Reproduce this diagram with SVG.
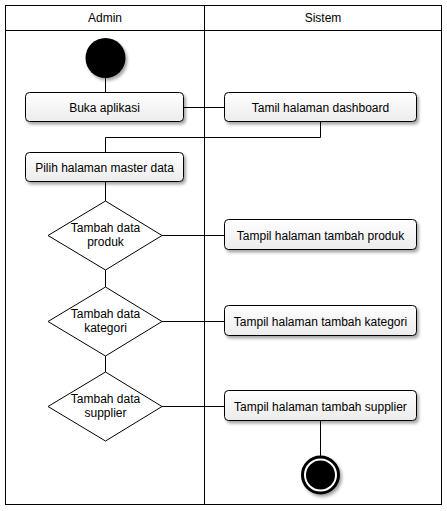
<svg xmlns="http://www.w3.org/2000/svg" width="447" height="511" viewBox="0 0 447 511">
<style>
text{font-family:"Liberation Sans",Arial,sans-serif;font-size:12px;fill:#000;text-anchor:middle}
.box{fill:url(#g);stroke:#000;stroke-width:1}
.dia{fill:#fff;stroke:#000;stroke-width:1}
.ln{fill:none;stroke:#000;stroke-width:1}
</style>
<defs>
<linearGradient id="g" x1="0" y1="0" x2="0" y2="1">
<stop offset="0" stop-color="#ffffff"/>
<stop offset="1" stop-color="#ececec"/>
</linearGradient>
<filter id="sh" x="-20%" y="-30%" width="140%" height="170%">
<feDropShadow dx="2" dy="2.5" stdDeviation="1.5" flood-color="#000" flood-opacity="0.35"/>
</filter>
</defs>
<rect width="447" height="511" fill="#fff"/>
<g id="lanes">
<rect x="5.5" y="5.5" width="436" height="499" fill="none" stroke="#000"/>
<line x1="5.5" y1="30.5" x2="441.5" y2="30.5" stroke="#000"/>
<line x1="204.5" y1="5.5" x2="204.5" y2="504.5" stroke="#000"/>
<text x="105" y="22">Admin</text>
<text x="323" y="22">Sistem</text>
</g>
<g id="connectors">
<line class="ln" x1="105.5" y1="78" x2="105.5" y2="92"/>
<line class="ln" x1="183" y1="107.5" x2="224" y2="107.5"/>
<polyline class="ln" points="320.5,122 320.5,137.5 105.5,137.5 105.5,152"/>
<line class="ln" x1="105.5" y1="182" x2="105.5" y2="201"/>
<line class="ln" x1="105.5" y1="270" x2="105.5" y2="287"/>
<line class="ln" x1="105.5" y1="356" x2="105.5" y2="372"/>
<line class="ln" x1="162" y1="235.5" x2="224" y2="235.5"/>
<line class="ln" x1="162" y1="321.5" x2="224" y2="321.5"/>
<line class="ln" x1="162" y1="406.5" x2="224" y2="406.5"/>
<line class="ln" x1="320.5" y1="421" x2="320.5" y2="456"/>
</g>
<g id="start">
<circle cx="105.5" cy="58" r="20" fill="#000" filter="url(#sh)"/>
</g>
<g id="buka">
<rect class="box" x="25.5" y="92.5" width="158" height="29" rx="4" filter="url(#sh)"/>
<text x="104.5" y="111.5">Buka aplikasi</text>
</g>
<g id="dashboard">
<rect class="box" x="224.5" y="92.5" width="192" height="29" rx="4" filter="url(#sh)"/>
<text x="320.5" y="111.5">Tamil halaman dashboard</text>
</g>
<g id="pilih">
<rect class="box" x="25.5" y="152.5" width="158" height="29" rx="4" filter="url(#sh)"/>
<text x="104.5" y="171.5">Pilih halaman master data</text>
</g>
<g id="d-produk">
<polygon class="dia" points="105.5,201 162,235.5 105.5,270 48,235.5"/>
<text x="105.5" y="232">Tambah data</text>
<text x="105.5" y="246">produk</text>
</g>
<g id="produk">
<rect class="box" x="224.5" y="219.5" width="192" height="30" rx="4" filter="url(#sh)"/>
<text x="320.5" y="239.5">Tampil halaman tambah produk</text>
</g>
<g id="d-kategori">
<polygon class="dia" points="105.5,287 162,321.5 105.5,356 48,321.5"/>
<text x="105.5" y="318">Tambah data</text>
<text x="105.5" y="332">kategori</text>
</g>
<g id="kategori">
<rect class="box" x="224.5" y="305.5" width="192" height="30" rx="4" filter="url(#sh)"/>
<text x="320.5" y="325.5">Tampil halaman tambah kategori</text>
</g>
<g id="d-supplier">
<polygon class="dia" points="105.5,372 162,406.5 105.5,441 48,406.5"/>
<text x="105.5" y="403">Tambah data</text>
<text x="105.5" y="417">supplier</text>
</g>
<g id="supplier">
<rect class="box" x="224.5" y="390.5" width="192" height="30" rx="4" filter="url(#sh)"/>
<text x="320.5" y="410.5">Tampil halaman tambah supplier</text>
</g>
<g id="end">
<circle cx="320.5" cy="475" r="18" fill="#fff" stroke="#000" stroke-width="3" filter="url(#sh)"/>
<circle cx="320.5" cy="475" r="14.5" fill="#000"/>
</g>
</svg>
